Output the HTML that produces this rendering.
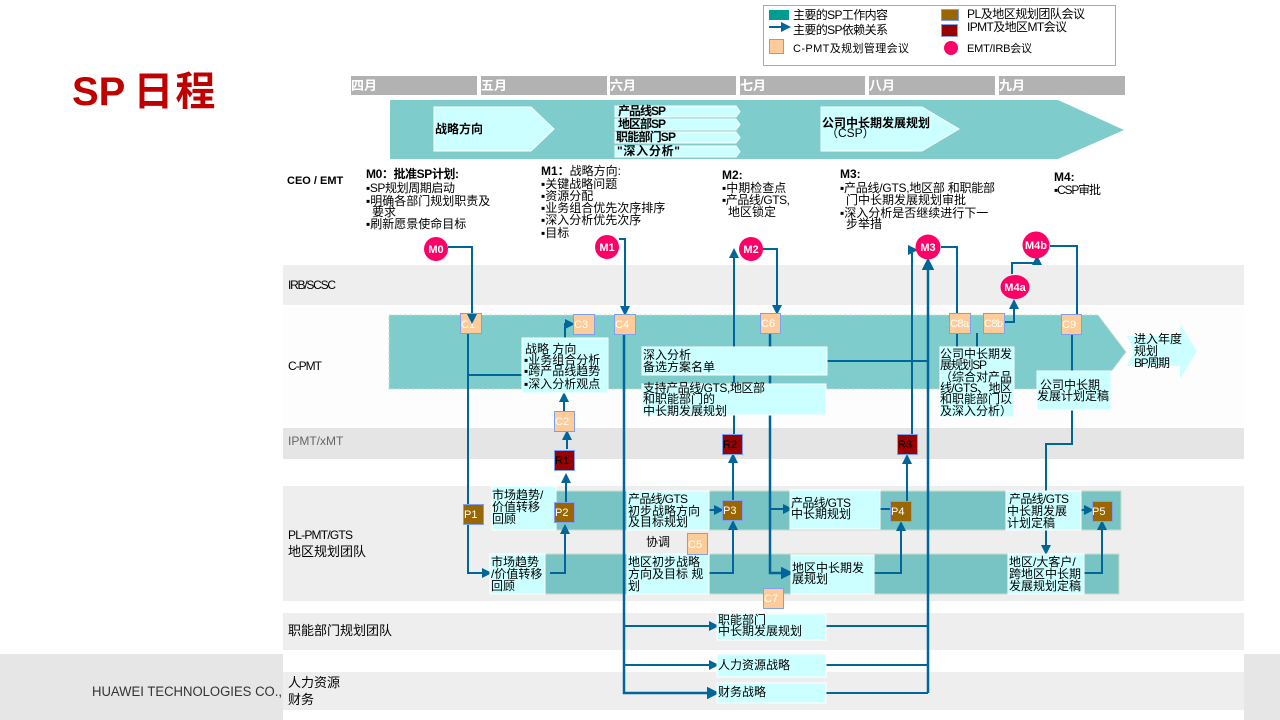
<!DOCTYPE html>
<html lang="zh"><head><meta charset="utf-8"><title>SP日程</title>
<style>
html,body{margin:0;padding:0;background:#fff;width:1280px;height:720px;overflow:hidden}
svg{display:block;font-family:"Liberation Sans","WenQuanYi Zen Hei","Noto Sans CJK SC",sans-serif}
text{font-size:12px;fill:#000}
.b{font-weight:bold}
.m{font-weight:bold;fill:#fff;font-size:13px}
.w{fill:#fff;font-size:11px}
.k{font-size:11px}
.r{font-size:13px}
.c{fill:#fff;font-size:11px;font-weight:bold;text-anchor:middle}
.l{fill:none;stroke:#006699;stroke-width:2}
.a{fill:none;stroke:#006699;stroke-width:2;marker-end:url(#h)}
.t{stroke-width:2.500}
.bx{fill:#ccffff;stroke:#fff;stroke-width:1}
.pe{fill:#ffcc99;stroke:#7f9fef;stroke-width:1}
.br{fill:#996600;stroke:#7f9fef;stroke-width:1}
.rd{fill:#990000;stroke:#7f9fef;stroke-width:1}
.bd{fill:#eeeeee}
</style></head><body>
<svg width="1280" height="720" viewBox="0 0 1280 720" xmlns="http://www.w3.org/2000/svg">
<defs><marker id="h" markerWidth="5" markerHeight="5" refX="4" refY="2.5" orient="auto" markerUnits="strokeWidth"><path d="M0,0L5,2.5L0,5z" fill="#006699"/></marker></defs>

<!-- bands -->
<rect x="0" y="654" width="283" height="66" fill="#e6e6e6"/>
<rect x="1244" y="654" width="36" height="66" fill="#e6e6e6"/>
<rect class="bd" x="283" y="265" width="961" height="40"/>
<rect x="283" y="307" width="961" height="118" fill="#fdfdfd"/>
<rect x="283" y="428" width="961" height="31" fill="#e5e5e5"/>
<rect class="bd" x="283" y="486" width="961" height="115"/>
<rect class="bd" x="283" y="613" width="961" height="37"/>
<rect class="bd" x="283" y="672" width="961" height="38"/>

<text x="72" y="105" style="font-size:40px;font-weight:bold;fill:#c00000;font-family:'Liberation Sans','Noto Sans CJK SC',sans-serif">SP<tspan dx="8">日</tspan><tspan dx="2">程</tspan></text>
<text x="92" y="696" textLength="190" lengthAdjust="spacingAndGlyphs" style="font-size:13.5px;fill:#333">HUAWEI TECHNOLOGIES CO.,</text>

<!-- legend -->
<rect x="763.5" y="5.500" width="352" height="60" fill="#fff" stroke="#aaa"/>
<rect x="769" y="10" width="20" height="10" fill="#009c94"/>
<path class="a" d="M769,27H789"/>
<rect class="pe" x="769.500" y="39.500" width="14" height="14"/>
<rect class="br" x="941.500" y="9.500" width="17" height="11"/>
<rect class="rd" x="941.500" y="24.500" width="16" height="12"/>
<circle cx="951" cy="48" r="7" fill="#ff0066"/>
<text x="793" y="19" textLength="95">主要的SP工作内容</text>
<text x="793" y="34" textLength="95">主要的SP依赖关系</text>
<text x="793" y="52" class="k" textLength="116">C-PMT及规划管理会议</text>
<text x="967" y="18" textLength="118">PL及地区规划团队会议</text>
<text x="967" y="31" textLength="100">IPMT及地区MT会议</text>
<text x="967" y="52" class="k" textLength="65">EMT/IRB会议</text>

<!-- months -->
<g fill="#b2b2b2">
<rect x="351" y="76" width="126" height="19"/><rect x="481" y="76" width="126" height="19"/>
<rect x="610" y="76" width="126" height="19"/><rect x="740" y="76" width="125" height="19"/>
<rect x="869" y="76" width="126" height="19"/><rect x="999" y="76" width="126" height="19"/>
</g>
<text class="m" x="351" y="90">四月</text><text class="m" x="481" y="90">五月</text>
<text class="m" x="610" y="90">六月</text><text class="m" x="740" y="90">七月</text>
<text class="m" x="869" y="90">八月</text><text class="m" x="999" y="90">九月</text>

<!-- top chevrons -->
<polygon points="390,100 1058,100 1124,130 1058,159 390,159" fill="#7fcccc"/>
<polygon class="bx" points="434,107 531,107 554,129 531,151 434,151"/>
<polygon class="bx" points="615,106 736,106 740,111.500 736,117 615,117"/>
<polygon class="bx" points="615,119 736,119 740,124.500 736,130 615,130"/>
<polygon class="bx" points="615,132 736,132 740,137.500 736,143 615,143"/>
<polygon class="bx" points="615,146 736,146 740,151.500 736,157 615,157"/>
<polygon class="bx" points="821,107 922,107 959,129 922,151 821,151"/>
<text class="b" x="435" y="133">战略方向</text>
<text class="b" x="618" y="115" textLength="48">产品线SP</text>
<text class="b" x="618" y="128" textLength="48">地区部SP</text>
<text class="b" x="616" y="141" textLength="60">职能部门SP</text>
<text class="b" x="617" y="155" textLength="63">"深入分析"</text>
<text class="b" x="822" y="127">公司中长期发展规划</text>
<text x="826" y="137">（CSP）</text>

<!-- milestones text -->
<text class="b k" x="287" y="184">CEO / EMT</text>
<text class="b" x="366" y="178" textLength="93">M0：批准SP计划:</text>
<text x="366" y="192" textLength="89">▪SP规划周期启动</text>
<text x="366" y="205">▪明确各部门规划职责及</text>
<text x="372" y="216">要求</text>
<text x="366" y="228">▪刷新愿景使命目标</text>
<text x="541" y="175"><tspan class="b">M1：</tspan>战略方向:</text>
<text x="541" y="188">▪关键战略问题</text>
<text x="541" y="200">▪资源分配</text>
<text x="541" y="212">▪业务组合优先次序排序</text>
<text x="541" y="224">▪深入分析优先次序</text>
<text x="541" y="237">▪目标</text>
<text class="b" x="722" y="179">M2:</text>
<text x="722" y="192">▪中期检查点</text>
<text x="722" y="204" textLength="68">▪产品线/GTS,</text>
<text x="728" y="216">地区锁定</text>
<text class="b" x="840" y="178">M3:</text>
<text x="840" y="192" textLength="155">▪产品线/GTS,地区部 和职能部</text>
<text x="846" y="204">门中长期发展规划审批</text>
<text x="840" y="217">▪深入分析是否继续进行下一</text>
<text x="846" y="228">步举措</text>
<text class="b" x="1054" y="181">M4:</text>
<text x="1054" y="194" textLength="47">▪CSP审批</text>

<!-- row labels -->
<text x="288" y="289" textLength="48">IRB/SCSC</text>
<text x="288" y="370" textLength="34">C-PMT</text>
<text x="288" y="445" style="fill:#666">IPMT/xMT</text>
<text x="288" y="539" textLength="65">PL-PMT/GTS</text>
<text class="r" x="288" y="556">地区规划团队</text>
<text class="r" x="288" y="635">职能部门规划团队</text>
<text class="r" x="288" y="687">人力资源</text>
<text class="r" x="288" y="704">财务</text>

<!-- C-PMT chevron -->
<polygon points="389,315 1098,315 1126,352 1098,389 389,389" fill="#7fcccc" stroke="#c8dcc8" stroke-dasharray="3 2"/>
<polygon points="1127,336 1180,336 1180,324 1197,351 1180,379 1180,366 1127,366 1134,351" fill="#ccffff"/>
<text x="1134" y="343">进入年度</text>
<text x="1134" y="355">规划</text>
<text x="1134" y="367" textLength="36">BP周期</text>

<!-- PL bars -->
<rect x="556" y="491" width="565" height="39" fill="#78c4c4" stroke="#c8dcc8"/>
<rect x="545" y="554" width="574" height="40" fill="#78c4c4" stroke="#c8dcc8"/>

<!-- connectors -->
<path class="a" d="M448,247H472V322"/>
<path class="l" d="M468,334V504"/>
<path class="a" d="M468,524V573H490"/>
<path class="l" d="M468,375H522"/>
<path class="a" d="M565,338V324H573"/>
<path class="a" d="M564,411V394"/>
<path class="a" d="M567,449V432"/>
<path class="a" d="M566,510V475"/>
<path class="a" d="M550,573H565V526"/>
<path class="a" d="M619,239H625V314"/>
<path class="a t" d="M624,334V693H717"/>
<path class="a" d="M624,626H717"/>
<path class="a" d="M624,665H717"/>
<path class="a" d="M734,434V250"/>
<path class="a" d="M733,510V455"/>
<path class="a" d="M709,573H733V522"/>
<path class="a" d="M709,510H722"/>
<path class="a" d="M763,249H777V313"/>
<path class="a t" d="M770,333V573H791"/>
<path class="a" d="M770,509H791"/>
<path class="a" d="M912,434V250L916,250"/>
<path class="a t" d="M928,693V260"/>
<path class="l" d="M941,247H957V313"/>
<path class="l" d="M957,333V347"/>
<path class="l" d="M977,347V333"/>
<path class="a" d="M1005,322H1014V301"/>
<path class="a" d="M1012,274V263H1037V257"/>
<path class="l" d="M1050,246H1077V314"/>
<path class="l" d="M1072,334V371"/>
<path class="l" d="M1072,410V444H1046V491"/>
<path class="a" d="M1046,530V553"/>
<path class="l" d="M827,361H928"/>
<path class="l" d="M880,509H890"/>
<path class="a" d="M874,573H901V523"/>
<path class="a" d="M907,501V456"/>
<path class="a" d="M1081,510H1092"/>
<path class="a" d="M1084,573H1102V522"/>
<path class="l" d="M826,626H928"/>
<path class="l" d="M826,665H928"/>
<path class="l" d="M826,693H928"/>

<!-- content boxes -->
<rect class="bx" x="522" y="338" width="86" height="55" stroke="#c8dcc8"/>
<text x="525" y="353">战略 方向</text>
<text x="524" y="364">▪业务组合分析</text>
<text x="524" y="375">▪跨产品线趋势</text>
<text x="524" y="388">▪深入分析观点</text>
<rect class="bx" x="642" y="347" width="185" height="28"/>
<text x="643" y="359">深入分析</text>
<text x="643" y="371">备选方案名单</text>
<rect class="bx" x="642" y="384" width="184" height="31"/>
<text x="643" y="392" textLength="122">支持产品线/GTS,地区部</text>
<text x="643" y="403">和职能部门的</text>
<text x="643" y="415">中长期发展规划</text>
<rect class="bx" x="940" y="347" width="74" height="70"/>
<text x="940" y="358">公司中长期发</text>
<text x="940" y="369" textLength="47">展规划SP</text>
<text x="940" y="381">（综合对产品</text>
<text x="940" y="392" textLength="72">线/GTS、地区</text>
<text x="940" y="403">和职能部门以</text>
<text x="940" y="415">及深入分析）</text>
<rect class="bx" x="1037" y="371" width="74" height="39"/>
<text x="1040" y="389">公司中长期</text>
<text x="1037" y="400">发展计划定稿</text>
<rect class="bx" x="492" y="486" width="64" height="44"/>
<text x="492" y="499">市场趋势/</text>
<text x="492" y="511">价值转移</text>
<text x="492" y="523">回顾</text>
<rect class="bx" x="490" y="554" width="55" height="40"/>
<text x="491" y="566">市场趋势</text>
<text x="491" y="578">/价值转移</text>
<text x="491" y="590">回顾</text>
<rect class="bx" x="627" y="491" width="82" height="39"/>
<text x="628" y="503" textLength="60">产品线/GTS</text>
<text x="628" y="515">初步战略方向</text>
<text x="628" y="526">及目标规划</text>
<rect class="bx" x="790" y="490" width="90" height="39"/>
<text x="791" y="507" textLength="60">产品线/GTS</text>
<text x="791" y="518">中长期规划</text>
<rect class="bx" x="1006" y="491" width="75" height="39"/>
<text x="1009" y="503" textLength="60">产品线/GTS</text>
<text x="1007" y="515">中长期发展</text>
<text x="1007" y="527">计划定稿</text>
<rect class="bx" x="627" y="554" width="82" height="40"/>
<text x="628" y="566">地区初步战略</text>
<text x="628" y="578">方向及目标 规</text>
<text x="628" y="590">划</text>
<rect class="bx" x="791" y="555" width="83" height="39"/>
<text x="792" y="572">地区中长期发</text>
<text x="792" y="583">展规划</text>
<rect class="bx" x="1008" y="554" width="76" height="40"/>
<text x="1009" y="566">地区/大客户/</text>
<text x="1009" y="578">跨地区中长期</text>
<text x="1009" y="590">发展规划定稿</text>
<rect class="bx" x="717" y="614" width="109" height="26"/>
<text x="718" y="624">职能部门</text>
<text x="718" y="635">中长期发展规划</text>
<rect class="bx" x="717" y="654" width="109" height="23"/>
<text x="718" y="669">人力资源战略</text>
<rect class="bx" x="717" y="683" width="109" height="20"/>
<text x="718" y="696">财务战略</text>
<text x="646" y="546">协调</text>

<!-- nodes -->
<g>
<rect class="pe" x="460.500" y="313.500" width="21" height="20"/><text class="w" x="461" y="328">C1</text>
<path class="a" d="M472,314V322"/>
<rect class="pe" x="573.500" y="314.500" width="21" height="20"/><text class="w" x="574" y="328">C3</text>
<rect class="pe" x="614.500" y="314.500" width="21" height="20"/><text class="w" x="615" y="328">C4</text>
<rect class="pe" x="760.500" y="313.500" width="20" height="20"/><text class="w" x="761" y="327">C6</text>
<rect class="pe" x="949.500" y="313.500" width="21" height="20"/><text class="w" x="950" y="327" textLength="19">C8a</text>
<rect class="pe" x="983.500" y="313.500" width="21" height="20"/><text class="w" x="984" y="327" textLength="19">C8b</text>
<rect class="pe" x="1061.500" y="314.500" width="20" height="20"/><text class="w" x="1062" y="328">C9</text>
<rect class="pe" x="554.500" y="411.500" width="20" height="20"/><text class="w" x="555" y="425">C2</text>
<rect class="pe" x="687.500" y="533.500" width="20" height="21"/><text class="w" x="688" y="548">C5</text>
<rect class="pe" x="763.500" y="588.500" width="20" height="20"/><text class="w" x="764" y="602">C7</text>
<rect class="rd" x="554.500" y="450.500" width="20" height="20"/><text class="k" x="555" y="464">R1</text>
<rect class="rd" x="722.500" y="434.500" width="20" height="20"/><text class="k" x="723" y="448">R2</text>
<rect class="rd" x="897.500" y="434.500" width="20" height="20"/><text class="k" x="898" y="448">R3</text>
<rect class="br" x="463.500" y="504.500" width="20" height="20"/><text class="w" x="464" y="518">P1</text>
<rect class="br" x="554.500" y="502.500" width="20" height="20"/><text class="w" x="555" y="516">P2</text>
<rect class="br" x="722.500" y="500.500" width="20" height="20"/><text class="w" x="723" y="514">P3</text>
<rect class="br" x="890.500" y="501.500" width="21" height="20"/><text class="w" x="891" y="515">P4</text>
<rect class="br" x="1092.500" y="501.500" width="20" height="20"/><text class="w" x="1092" y="515">P5</text>
</g>

<!-- milestone circles -->
<g fill="#ff0066">
<circle cx="436" cy="249" r="12"/><circle cx="607" cy="247" r="12"/>
<circle cx="751" cy="249" r="12"/><circle cx="928" cy="247" r="12.500"/>
<circle cx="1036" cy="245" r="13.500"/><ellipse cx="1015" cy="287" rx="14.500" ry="12"/>
</g>
<text class="c" x="436" y="253">M0</text><text class="c" x="607" y="251">M1</text>
<text class="c" x="751" y="253">M2</text><text class="c" x="928" y="251">M3</text>
<text class="c" x="1036" y="249">M4b</text><text class="c" x="1015" y="291">M4a</text>
</svg>
</body></html>
